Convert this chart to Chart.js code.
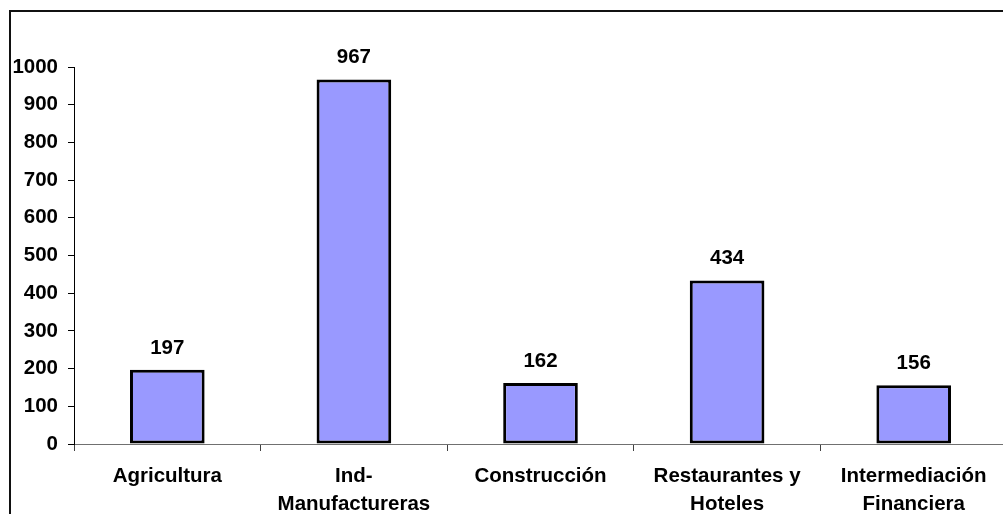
<!DOCTYPE html>
<html>
<head>
<meta charset="utf-8">
<script src="https://cdn.jsdelivr.net/npm/chart.js@4"></script>
<style>
  html, body { margin: 0; padding: 0; width: 1003px; height: 514px; overflow: hidden; background: #fff; }
  #frame { position: absolute; left: 9px; top: 10px; width: 1100px; height: 600px; border: 2px solid #111; box-sizing: border-box; }
  #wrap { position: absolute; left: 0; top: 0; width: 1010px; height: 514px; }
</style>
</head>
<body>
<div id="frame"></div>
<div id="wrap"><canvas id="c" width="1010" height="514"></canvas></div>
<script>
const categories = [["Agricultura"], ["Ind-", "Manufactureras"], ["Construcción"], ["Restaurantes y", "Hoteles"], ["Intermediación", "Financiera"]];
const values = [197, 967, 162, 434, 156];
const yTicks = [0, 100, 200, 300, 400, 500, 600, 700, 800, 900, 1000];

const FONT = "'Liberation Sans', Arial, sans-serif";
const FSIZE = 20.5;

const dataLabels = {
  id: 'dataLabels',
  afterDatasetsDraw(chart) {
    const ctx = chart.ctx;
    const meta = chart.getDatasetMeta(0);
    ctx.save();
    ctx.font = 'bold ' + FSIZE + 'px ' + FONT;
    ctx.fillStyle = '#000';
    ctx.textAlign = 'center';
    ctx.textBaseline = 'alphabetic';
    meta.data.forEach((bar, i) => {
      ctx.fillText(String(values[i]), bar.x, bar.y - 16);
    });
    ctx.restore();
  }
};

new Chart(document.getElementById('c'), {
  type: 'bar',
  data: {
    labels: categories,
    datasets: [{
      data: values,
      backgroundColor: '#9999FF',
      borderColor: '#000000',
      borderWidth: 3,
      borderSkipped: false,
      categoryPercentage: 1.0,
      barPercentage: 0.4
    }]
  },
  options: {
    responsive: false,
    animation: false,
    devicePixelRatio: 1,
    layout: { padding: { left: 0, right: 3, top: 67, bottom: 0 } },
    plugins: { legend: { display: false }, tooltip: { enabled: false } },
    scales: {
      x: {
        offset: true,
        grid: { offset: true, drawOnChartArea: false, drawTicks: true, tickLength: 7, tickColor: '#404040', color: '#404040' },
        border: { display: true, color: '#707070', width: 1 },
        ticks: { color: '#000', font: { family: FONT, size: FSIZE, weight: 'bold', lineHeight: 1.38 }, padding: 11, maxRotation: 0, autoSkip: false },
        afterFit(scale) { scale.height = 70; }
      },
      y: {
        min: 0, max: 1000,
        afterBuildTicks(scale) { scale.ticks = yTicks.map(v => ({ value: v })); },
        grid: { drawOnChartArea: false, drawTicks: true, tickLength: 6, tickColor: '#000' },
        border: { display: true, color: '#000', width: 1 },
        ticks: { color: '#000', font: { family: FONT, size: FSIZE, weight: 'bold' }, padding: 10, callback: (v) => String(v) },
        afterFit(scale) { scale.width = 74; }
      }
    }
  },
  plugins: [dataLabels]
});
</script>
</body>
</html>
